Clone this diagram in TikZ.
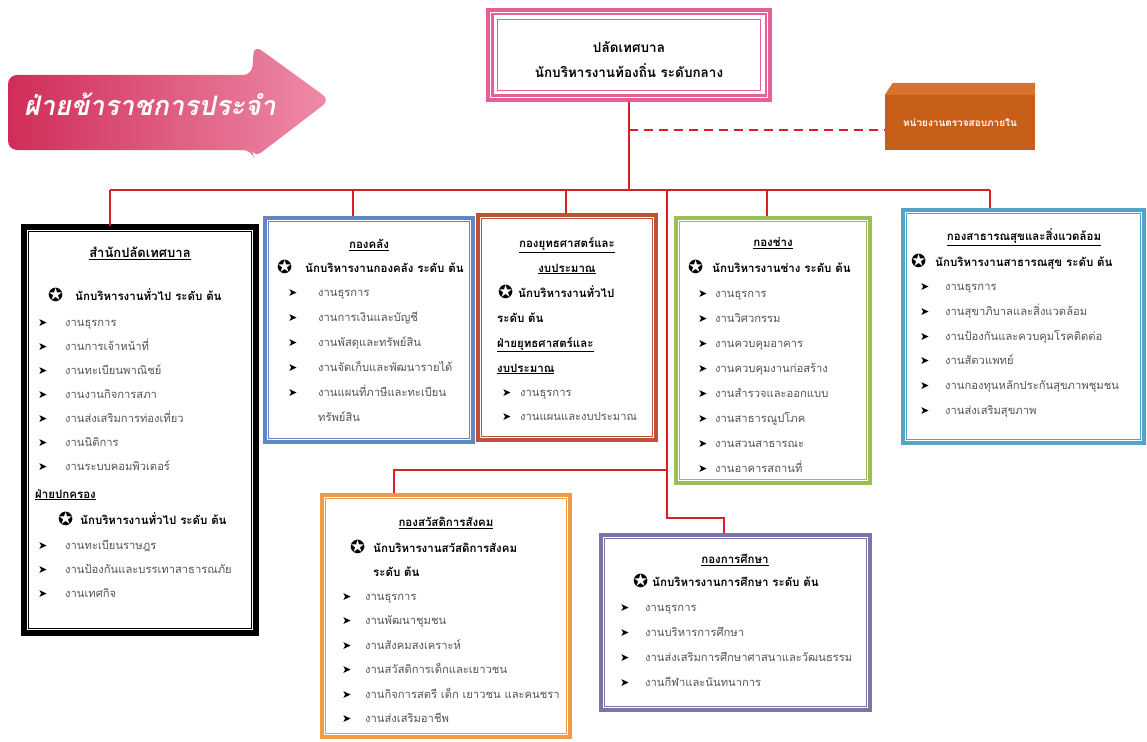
\documentclass[tikz,border=0pt]{standalone}
\usepackage{fontspec}
\newfontfamily\thaifont[Script=Thai]{Loma}
\newfontfamily\bannerfont[Script=Thai,FakeSlant=0.2]{Loma}
\newfontfamily\symfont{DejaVu Sans}
\definecolor{linkred}{RGB}{222,30,36}
\definecolor{chiefpink}{RGB}{230,95,150}
\definecolor{kblue}{RGB}{95,135,195}
\definecolor{kbrown}{RGB}{190,80,60}
\definecolor{kgreen}{RGB}{155,190,85}
\definecolor{kcyan}{RGB}{80,165,205}
\definecolor{korange}{RGB}{242,155,70}
\definecolor{kpurple}{RGB}{125,115,165}
\definecolor{auditfront}{RGB}{200,95,25}
\definecolor{audittop}{RGB}{215,115,45}
\definecolor{bannerleft}{RGB}{208,45,88}
\definecolor{bannerright}{RGB}{238,140,168}
\definecolor{itemgray}{RGB}{85,85,85}
\newcommand\arrowmark[1]{\makebox[#1][l]{\color{black}\symfont\fontsize{11}{11}\selectfont ➤}}
\newcommand\starmark[1]{\makebox[#1][l]{\raisebox{-1.5pt}{\color{black}\symfont\fontsize{18}{18}\selectfont ✪}}}
\begin{document}
\begin{tikzpicture}
[x=1pt,y=-1pt,
  link/.style={draw=linkred,line width=2pt},
  frame/.style={draw=#1,line width=3.5pt,fill=white,inner sep=0pt},
  head/.style={font=\thaifont\bfseries\fontsize{11.5}{13}\selectfont},
  lead/.style={anchor=base west,yshift=-4pt,inner sep=0pt,font=\thaifont\bfseries\fontsize{11.5}{13}\selectfont},
  item/.style={anchor=base west,yshift=-4pt,inner sep=0pt,text=itemgray,font=\thaifont\fontsize{11.2}{13}\selectfont}]
\useasboundingbox (0,0) rectangle (1147,741);
%% banner arrow
\shade[left color=bannerleft, right color=bannerright, rounded corners=9]
  (8,75) -- (252,75) -- (254,45) -- (330,100) -- (254,158) -- (252,150) -- (8,150) -- cycle;
\node[text=white,font=\bannerfont\bfseries\fontsize{27}{27}\selectfont] (banner) at (150,104) {ฝ่ายข้าราชการประจำ};
%% chief box
\node[frame=chiefpink,minimum width=282pt,minimum height=90pt] (chief) at (629,55) {};
\draw[chiefpink,line width=2.5pt] ([shift={(6,6)}]chief.north west) rectangle ([shift={(-6,-6)}]chief.south east);
\draw[chiefpink,line width=1pt] ([shift={(11,11)}]chief.north west) rectangle ([shift={(-11,-11)}]chief.south east);
\node[head,font=\thaifont\bfseries\fontsize{13.5}{15}\selectfont] (chief-1) at (629,47) {ปลัดเทศบาล};
\node[head,font=\thaifont\bfseries\fontsize{13.5}{15}\selectfont] (chief-2) at (629,71) {นักบริหารงานท้องถิ่น ระดับกลาง};
%% audit box
\node[fill=auditfront,minimum width=150pt,minimum height=55pt,text=white,
  font=\thaifont\bfseries\fontsize{10}{12}\selectfont] (audit) at (960,122.5) {หน่วยงานตรวจสอบภายใน};
\fill[audittop] (audit.north west) -- ([shift={(8,-12)}]audit.north west) -- ([shift={(0,-12)}]audit.north east) -- (audit.north east) -- cycle;
%% division boxes
\foreach \name/\col/\xa/\ya/\xb/\yb in {
  office/black/25/228/255/632, finance/kblue/265/218/473/442,
  strategy/kbrown/478/215/656/440, works/kgreen/676/218/870/483,
  health/kcyan/903/210/1144/443, welfare/korange/322/495/570/737,
  edu/kpurple/601/535/870/710}
{
  \node[frame=\col,minimum width={(\xb-\xa)*1pt},minimum height={(\yb-\ya)*1pt}]
    (\name) at ({(\xa+\xb)/2},{(\ya+\yb)/2}) {};
  \draw[\col,line width=1.2pt] ([shift={(5,5)}]\name.north west) rectangle ([shift={(-5,-5)}]\name.south east);
}
\draw[black,line width=4.5pt] (office.north west) rectangle (office.south east);
%% connectors
\coordinate (trunk) at (chief.south |- 0,130);
\coordinate (barL) at (110,190);
\coordinate (barR) at (990,190);
\coordinate (split) at (667,190);
\coordinate (fork) at (667,470);
\coordinate (knee) at (724,518);
\coordinate (wtop) at (394,470);
\draw[link] (chief.south) -- (chief.south |- barL);
\draw[link,dashed,dash pattern=on 9pt off 6pt] (trunk) -- (audit.west |- trunk);
\draw[link] (barL) -- (barR);
\draw[link] (barL) -- (barL |- office.north);
\foreach \name/\x in {finance/353, strategy/566, works/767, health/990}
  \draw[link] (\x,190) -- (\name.north -| \x,0);
\draw[link] (split) |- (knee) -- (knee |- edu.north);
\draw[link] (fork) -- (wtop) -- (wtop |- welfare.north);
%% office
\node[head,font=\thaifont\bfseries\fontsize{13}{15}\selectfont] (office-h) at (140,253) {\underline{สำนักปลัดเทศบาล}};
\node[lead] (office-l) at (48,296) {\starmark{27pt}นักบริหารงานทั่วไป ระดับ ต้น};
\foreach \txt [count=\i] in {งานธุรการ, งานการเจ้าหน้าที่, งานทะเบียนพาณิชย์, งานงานกิจการสภา,
  งานส่งเสริมการท่องเที่ยว, งานนิติการ, งานระบบคอมพิวเตอร์}
  \node[item] (office-\i) at (38,{298+24*\i}) {\arrowmark{27pt}\txt};
\node[lead] (office-s) at (35,494) {\underline{ฝ่ายปกครอง}};
\node[lead] (office-m) at (58,520) {\starmark{22pt}นักบริหารงานทั่วไป ระดับ ต้น};
\foreach \txt [count=\i] in {งานทะเบียนราษฎร, งานป้องกันและบรรเทาสาธารณภัย, งานเทศกิจ}
  \node[item] (office-b\i) at (38,{521+24*\i}) {\arrowmark{27pt}\txt};
%% finance
\node[head] (finance-h) at (369,245) {\underline{กองคลัง}};
\node[lead] (finance-l) at (277,268) {\starmark{28pt}นักบริหารงานกองคลัง ระดับ ต้น};
\foreach \txt [count=\i] in {งานธุรการ, งานการเงินและบัญชี, งานพัสดุและทรัพย์สิน,
  งานจัดเก็บและพัฒนารายได้, งานแผนที่ภาษีและทะเบียน}
  \node[item] (finance-\i) at (288,{267+25*\i}) {\arrowmark{30pt}\txt};
\node[item] (finance-6) at (318,417) {ทรัพย์สิน};
%% strategy
\node[head] (strategy-h) at (567,245) {\underline{กองยุทธศาสตร์และ}};
\node[head] (strategy-h2) at (567,269) {\underline{งบประมาณ}};
\node[lead] (strategy-l) at (498,293) {\starmark{20pt}นักบริหารงานทั่วไป};
\node[lead] (strategy-r) at (497,318) {ระดับ ต้น};
\node[lead] (strategy-s) at (497,343) {\underline{ฝ่ายยุทธศาสตร์และ}};
\node[lead] (strategy-s2) at (497,368) {\underline{งบประมาณ}};
\foreach \txt [count=\i] in {งานธุรการ, งานแผนและงบประมาณ}
  \node[item] (strategy-\i) at (502,{368+24*\i}) {\arrowmark{18pt}\txt};
%% works
\node[head] (works-h) at (773,243) {\underline{กองช่าง}};
\node[lead] (works-l) at (688,268) {\starmark{24pt}นักบริหารงานช่าง ระดับ ต้น};
\foreach \txt [count=\i] in {งานธุรการ, งานวิศวกรรม, งานควบคุมอาคาร, งานควบคุมงานก่อสร้าง,
  งานสำรวจและออกแบบ, งานสาธารณูปโภค, งานสวนสาธารณะ, งานอาคารสถานที่}
  \node[item] (works-\i) at (698,{268+25*\i}) {\arrowmark{17pt}\txt};
%% health
\node[head] (health-h) at (1024,237) {\underline{กองสาธารณสุขและสิ่งแวดล้อม}};
\node[lead] (health-l) at (911,262) {\starmark{24pt}นักบริหารงานสาธารณสุข ระดับ ต้น};
\foreach \txt [count=\i] in {งานธุรการ, งานสุขาภิบาลและสิ่งแวดล้อม, งานป้องกันและควบคุมโรคติดต่อ,
  งานสัตวแพทย์, งานกองทุนหลักประกันสุขภาพชุมชน, งานส่งเสริมสุขภาพ}
  \node[item] (health-\i) at (920,{262+24.7*\i}) {\arrowmark{25pt}\txt};
%% welfare
\node[head] (welfare-h) at (446,523) {\underline{กองสวัสดิการสังคม}};
\node[lead] (welfare-l) at (350,548) {\starmark{23pt}นักบริหารงานสวัสดิการสังคม};
\node[lead] (welfare-r) at (373,572) {ระดับ ต้น};
\foreach \txt [count=\i] in {งานธุรการ, งานพัฒนาชุมชน, งานสังคมสงเคราะห์, งานสวัสดิการเด็กและเยาวชน,
  งานกิจการสตรี เด็ก เยาวชน และคนชรา, งานส่งเสริมอาชีพ}
  \node[item] (welfare-\i) at (342,{572+24.4*\i}) {\arrowmark{23pt}\txt};
%% education
\node[head] (edu-h) at (735,560) {\underline{กองการศึกษา}};
\node[lead] (edu-l) at (633,582) {\starmark{19pt}นักบริหารงานการศึกษา ระดับ ต้น};
\foreach \txt [count=\i] in {งานธุรการ, งานบริหารการศึกษา, งานส่งเสริมการศึกษาศาสนาและวัฒนธรรม,
  งานกีฬาและนันทนาการ}
  \node[item] (edu-\i) at (620,{582+25.2*\i}) {\arrowmark{25pt}\txt};
\end{tikzpicture}
\end{document}
